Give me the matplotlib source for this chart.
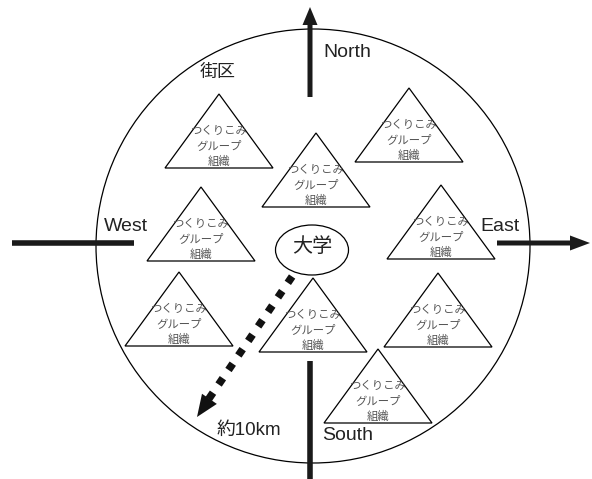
import numpy as np
import matplotlib.pyplot as plt
from matplotlib.patches import Circle, Ellipse, Polygon, FancyArrow

plt.rcParams['font.family'] = ['Liberation Sans', 'Noto Sans CJK JP', 'DejaVu Sans']

# 三角形（つくりこみグループ組織）の頂点位置 (x, y) ※ピクセル座標
tri_apex_x = [219, 409, 316, 201, 441, 179, 313, 438, 378]
tri_apex_y = [94, 88, 133, 187, 185, 272, 278, 273, 349]
tri_label = 'つくりこみ\nグループ\n組織'

# 方位ラベル
dir_labels = ['North', 'South', 'West', 'East']
dir_pos = [(323, 52), (322, 435), (104, 226), (480, 226)]

# 街区の円
city_center = (313, 246)
city_radius = 217

fig = plt.figure(figsize=(5.92, 4.79), dpi=100)
ax = fig.add_axes([0, 0, 1, 1])
ax.set_xlim(0, 592)
ax.set_ylim(479, 0)
ax.axis('off')

# 街区の円
ax.add_patch(Circle(city_center, city_radius, fill=False, ec='black', lw=0.9))

# 三角形
half_w, height = 54, 74
for x, y in zip(tri_apex_x, tri_apex_y):
    ax.add_patch(Polygon([(x, y), (x - half_w, y + height), (x + half_w, y + height)],
                         closed=True, facecolor='white', ec='black', lw=0.9, zorder=2))
    ax.text(x, y + height - 22, tri_label, ha='center', va='center',
            fontsize=8.2, color='#555555', linespacing=1.5, zorder=3)

# 方位の線・矢印
ax.add_patch(FancyArrow(310, 97, 0, -90, width=5, head_width=15, head_length=18,
                        length_includes_head=True, color='#1a1a1a', lw=0))
ax.plot([310, 310], [361, 479], color='#1a1a1a', lw=4, solid_capstyle='butt')
ax.plot([12, 134], [243, 243], color='#1a1a1a', lw=4, solid_capstyle='butt')
ax.add_patch(FancyArrow(497, 243, 93, 0, width=5, head_width=15, head_length=20,
                        length_includes_head=True, color='#1a1a1a', lw=0))

for name, (x, y) in zip(dir_labels, dir_pos):
    ax.text(x, y, name, ha='left', va='center', fontsize=14, color='#222222')

# 大学
ax.add_patch(Ellipse((312, 250), 73, 50, fill=True, facecolor='white', ec='black', lw=0.9, zorder=4))
ax.text(312, 246, '大学', ha='center', va='center', fontsize=14.5, color='#222222', zorder=5)

# 約10km の点線矢印
ax.plot([302, 206], [262, 403], color='#111111', lw=5.5, linestyle=(0, (1, 1.3)),
        dash_capstyle='butt', zorder=3)
ax.add_patch(FancyArrow(210, 398, 197 - 210, 417 - 398, width=0.1, head_width=18,
                        head_length=22, length_includes_head=True, color='#111111', lw=0, zorder=3))

ax.text(217, 430, '約10km', ha='left', va='center', fontsize=13.5, color='#222222')
ax.text(200, 72, '街区', ha='left', va='center', fontsize=13, color='#222222')

fig.savefig('out.png', dpi=100)
